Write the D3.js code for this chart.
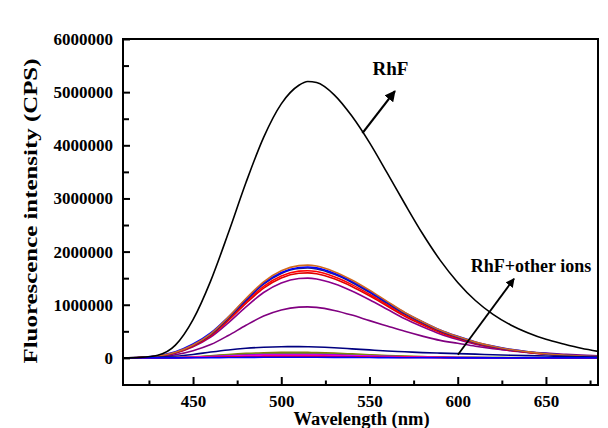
<!DOCTYPE html>
<html>
<head>
<meta charset="utf-8">
<script src="https://cdn.jsdelivr.net/npm/d3@7/dist/d3.min.js"></script>
<style>
  html, body { margin: 0; padding: 0; background: #ffffff; }
  svg { display: block; }
  text { font-family: "Liberation Serif", "Times New Roman", serif; font-weight: bold; fill: #000; }
</style>
</head>
<body>
<svg id="chart" width="608" height="428"></svg>
<script>
// ---------- DATA (intensity in units of 10^6 CPS) ----------
const wavelengths = [410,420,430,440,450,460,470,480,490,500,510,515,520,530,540,550,560,570,580,590,600,610,620,630,640,650,660,670,680];

const rhf        = [0,0.01,0.05,0.24,0.72,1.45,2.35,3.30,4.15,4.78,5.13,5.20,5.18,4.95,4.55,4.05,3.48,2.90,2.34,1.84,1.42,1.08,0.82,0.62,0.47,0.35,0.26,0.18,0.12];

const ionOrange  = [0,0.009,0.035,0.105,0.244,0.454,0.768,1.117,1.431,1.640,1.736,1.745,1.728,1.623,1.466,1.274,1.064,0.855,0.681,0.524,0.401,0.297,0.218,0.157,0.113,0.079,0.052,0.035,0.026];
const ionBlue    = [0,0.010,0.040,0.115,0.260,0.470,0.770,1.100,1.405,1.607,1.701,1.710,1.693,1.592,1.440,1.255,1.050,0.850,0.680,0.525,0.405,0.300,0.222,0.160,0.115,0.080,0.053,0.036,0.027];
const ionNavy    = [0,0.008,0.034,0.101,0.237,0.439,0.744,1.082,1.386,1.589,1.682,1.690,1.673,1.572,1.420,1.234,1.031,0.828,0.659,0.507,0.389,0.287,0.211,0.152,0.110,0.076,0.051,0.034,0.025];
const ionRed1    = [0,0.008,0.033,0.098,0.230,0.426,0.722,1.050,1.345,1.542,1.632,1.640,1.624,1.525,1.378,1.197,1.000,0.804,0.640,0.492,0.377,0.279,0.205,0.148,0.107,0.074,0.049,0.033,0.025];
const ionRed2    = [0,0.008,0.032,0.096,0.224,0.416,0.704,1.024,1.312,1.504,1.592,1.600,1.584,1.488,1.344,1.168,0.976,0.784,0.624,0.480,0.368,0.272,0.200,0.144,0.104,0.072,0.048,0.032,0.024];
const ionPurple1 = [0,0.008,0.030,0.090,0.210,0.390,0.660,0.960,1.230,1.410,1.493,1.500,1.485,1.395,1.260,1.095,0.915,0.735,0.585,0.450,0.345,0.255,0.188,0.135,0.098,0.068,0.045,0.030,0.023];
const ionPurple2 = [0,0.005,0.019,0.058,0.134,0.250,0.422,0.614,0.787,0.902,0.955,0.960,0.950,0.893,0.806,0.701,0.600,0.500,0.410,0.330,0.275,0.220,0.175,0.140,0.110,0.090,0.070,0.052,0.040];
const ionNavyLow = [0,0.002,0.010,0.030,0.065,0.110,0.150,0.180,0.200,0.210,0.212,0.210,0.205,0.190,0.170,0.150,0.130,0.115,0.100,0.090,0.080,0.070,0.060,0.050,0.042,0.035,0.028,0.022,0.018];
const ionOlive   = [0,0,0.002,0.008,0.020,0.040,0.065,0.085,0.098,0.104,0.105,0.103,0.100,0.090,0.075,0.060,0.045,0.033,0.024,0.017,0.012,0.009,0.007,0.005,0.004,0.003,0.002,0.002,0.001];
const ionGreen   = [0,0,0.002,0.006,0.016,0.032,0.053,0.069,0.079,0.084,0.085,0.083,0.081,0.073,0.061,0.049,0.036,0.027,0.019,0.014,0.010,0.007,0.006,0.004,0.003,0.002,0.002,0.002,0.001];
const ionViolet  = [0,0,0.001,0.005,0.012,0.025,0.040,0.053,0.061,0.064,0.065,0.064,0.062,0.056,0.046,0.037,0.028,0.020,0.015,0.011,0.007,0.006,0.004,0.003,0.002,0.002,0.001,0.001,0.001];
const ionMagenta = [0,0,0.001,0.004,0.010,0.019,0.031,0.041,0.047,0.050,0.050,0.049,0.048,0.043,0.036,0.029,0.021,0.016,0.011,0.008,0.006,0.004,0.003,0.002,0.002,0.001,0.001,0.001,0];
const ionRedLow  = [0,0,0,0.002,0.006,0.011,0.019,0.024,0.028,0.030,0.030,0.029,0.029,0.026,0.021,0.017,0.013,0.009,0.007,0.005,0.003,0.003,0.002,0.001,0.001,0.001,0.001,0.001,0];
const ionBlueLow = [0,0,0,0.001,0.002,0.005,0.007,0.010,0.011,0.012,0.012,0.012,0.011,0.010,0.009,0.007,0.005,0.004,0.003,0.002,0.001,0.001,0.001,0.001,0,0,0,0,0];

const xTickValues = [450,500,550,600,650];
const xTickLabels = ["450","500","550","600","650"];
const yTickValues = [0,1,2,3,4,5,6];
const yTickLabels = ["0","1000000","2000000","3000000","4000000","5000000","6000000"];

const xTitle = "Wavelength (nm)";
const yTitle = "Fluorescence intensity (CPS)";
const labelRhF = "RhF";
const labelIons = "RhF+other ions";

// series in drawing order (bottom to top)
const series = [
  {values: ionPurple2, color: "#800080"},
  {values: ionPurple1, color: "#8b008b"},
  {values: ionRed2,    color: "#e00000"},
  {values: ionRed1,    color: "#ff0000"},
  {values: ionNavy,    color: "#1a1a8c"},
  {values: ionBlue,    color: "#0000ff"},
  {values: ionOrange,  color: "#d2691e"},
  {values: ionNavyLow, color: "#000080"},
  {values: ionOlive,   color: "#808000"},
  {values: ionGreen,   color: "#6b8e23"},
  {values: ionViolet,  color: "#9400d3"},
  {values: ionMagenta, color: "#ff00ff"},
  {values: ionRedLow,  color: "#ff0000"},
  {values: ionBlueLow, color: "#0000ff"},
  {values: rhf,        color: "#000000"}
];

// ---------- LAYOUT ----------
const svg = d3.select("#chart");
const L = 123, R = 598, T = 39, B = 385;

const x = d3.scaleLinear().domain([410.3, 679.5]).range([L, R]);
const y = d3.scaleLinear().domain([-0.51, 6.0]).range([B, T]);

svg.append("rect").attr("width", 608).attr("height", 428).attr("fill", "#fff");

const defs = svg.append("defs");
defs.append("clipPath").attr("id", "clip")
  .append("rect").attr("x", L).attr("y", T).attr("width", R - L).attr("height", B - T);

defs.append("marker")
  .attr("id", "arrow").attr("viewBox", "0 0 10 10")
  .attr("refX", 9).attr("refY", 5)
  .attr("markerWidth", 5).attr("markerHeight", 5)
  .attr("markerUnits", "strokeWidth")
  .attr("orient", "auto")
  .append("path").attr("d", "M0,0 L10,5 L0,10 Z").attr("fill", "#000");

const line = d3.line()
  .x((d, i) => x(wavelengths[i]))
  .y(d => y(d))
  .curve(d3.curveMonotoneX);

const plot = svg.append("g").attr("clip-path", "url(#clip)");
series.forEach(s => {
  plot.append("path")
    .datum(s.values)
    .attr("d", line)
    .attr("fill", "none")
    .attr("stroke", s.color)
    .attr("stroke-width", 1.6)
    .attr("stroke-linejoin", "round");
});

// ---------- AXES ----------
const xMinor = d3.range(425, 680, 25);
const yMinor = d3.range(0.5, 6, 1);

const axisG = svg.append("g");
const xAxis = d3.axisBottom(x).tickValues(xTickValues)
  .tickFormat((d, i) => xTickLabels[i]).tickSizeInner(-8).tickSizeOuter(0).tickPadding(10);
const gx = axisG.append("g").attr("transform", `translate(0,${B})`).call(xAxis);
gx.select(".domain").remove();
gx.selectAll(".tick line").attr("stroke", "#000").attr("stroke-width", 2);
gx.selectAll(".tick text").attr("font-size", 17).attr("font-family", "Liberation Serif").attr("font-weight", "bold").attr("fill", "#000");

const xAxisMinor = d3.axisBottom(x).tickValues(xMinor.filter(v => !xTickValues.includes(v)))
  .tickFormat("").tickSizeInner(-4.5).tickSizeOuter(0);
const gxm = axisG.append("g").attr("transform", `translate(0,${B})`).call(xAxisMinor);
gxm.select(".domain").remove();
gxm.selectAll(".tick line").attr("stroke", "#000").attr("stroke-width", 2);

const yAxis = d3.axisLeft(y).tickValues(yTickValues)
  .tickFormat((d, i) => yTickLabels[i]).tickSizeInner(-7).tickSizeOuter(0).tickPadding(10);
const gy = axisG.append("g").attr("transform", `translate(${L},0)`).call(yAxis);
gy.select(".domain").remove();
gy.selectAll(".tick line").attr("stroke", "#000").attr("stroke-width", 2);
gy.selectAll(".tick text").attr("font-size", 17).attr("font-family", "Liberation Serif").attr("font-weight", "bold").attr("fill", "#000");

const yAxisMinor = d3.axisLeft(y).tickValues(yMinor).tickFormat("").tickSizeInner(-6).tickSizeOuter(0);
const gym = axisG.append("g").attr("transform", `translate(${L},0)`).call(yAxisMinor);
gym.select(".domain").remove();
gym.selectAll(".tick line").attr("stroke", "#000").attr("stroke-width", 2);

// frame
svg.append("rect")
  .attr("x", L).attr("y", T).attr("width", R - L).attr("height", B - T)
  .attr("fill", "none").attr("stroke", "#000").attr("stroke-width", 2);

// ---------- TITLES ----------
svg.append("text")
  .attr("x", (L + R) / 2 + 1).attr("y", 425)
  .attr("text-anchor", "middle").attr("font-size", 18.5)
  .text(xTitle);

svg.append("text")
  .attr("transform", `translate(37,${(T + B) / 2 - 1}) rotate(-90)`)
  .attr("text-anchor", "middle").attr("font-size", 18)
  .attr("textLength", 305).attr("lengthAdjust", "spacingAndGlyphs")
  .text(yTitle);

// ---------- ANNOTATIONS ----------
const ann = svg.append("g");
ann.append("line")
  .attr("x1", x(546)).attr("y1", y(4.23))
  .attr("x2", x(564.4)).attr("y2", y(5.02))
  .attr("stroke", "#000").attr("stroke-width", 2.2)
  .attr("marker-end", "url(#arrow)");
ann.append("text")
  .attr("x", x(561.9)).attr("y", y(5.32))
  .attr("text-anchor", "middle").attr("font-size", 19)
  .text(labelRhF);

ann.append("line")
  .attr("x1", x(600.1)).attr("y1", y(0.06))
  .attr("x2", x(631.9)).attr("y2", y(1.49))
  .attr("stroke", "#000").attr("stroke-width", 1.8)
  .attr("marker-end", "url(#arrow)");
ann.append("text")
  .attr("x", x(641.5)).attr("y", y(1.62))
  .attr("text-anchor", "middle").attr("font-size", 18)
  .text(labelIons);
</script>
</body>
</html>
